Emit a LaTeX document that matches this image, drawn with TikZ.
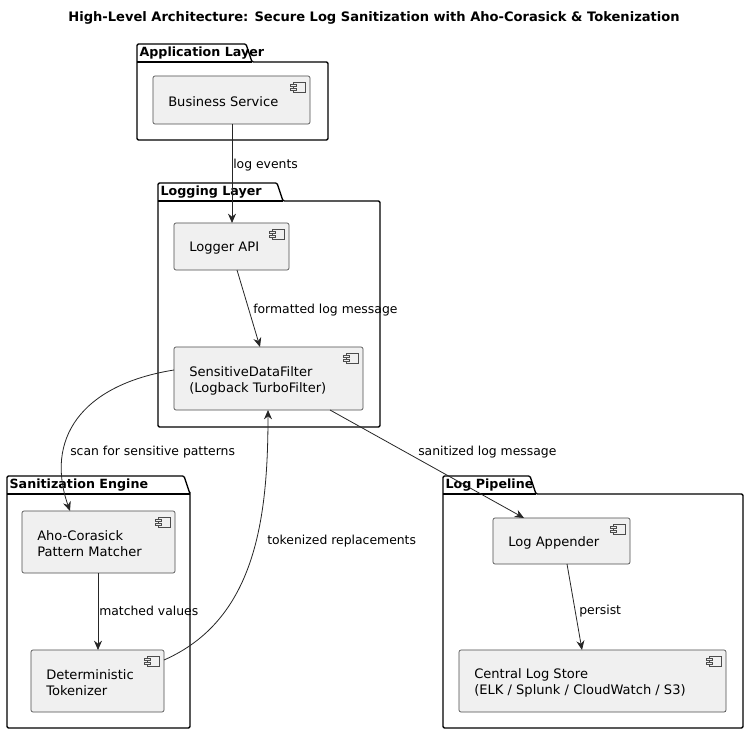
\documentclass[tikz,border=0pt]{standalone}
\usepackage{fontspec}
\setmainfont{DejaVu Sans}
\usetikzlibrary{arrows.meta}
\begin{document}
\begin{tikzpicture}[x=0.75pt,y=-0.75pt,
  comp/.style={draw=black!70,fill=black!6,rounded corners=1.5pt,line width=0.5pt},
  pkg/.style={draw=black,line width=1pt},
  ptitle/.style={anchor=west,font=\bfseries\fontsize{9.5}{11}\selectfont,inner sep=1pt},
  ctext/.style={anchor=west,align=left,font=\fontsize{9.8}{12}\selectfont,inner sep=0pt},
  lbl/.style={anchor=west,font=\fontsize{9.3}{11}\selectfont,inner sep=0pt},
  arr/.style={draw=black!85,line width=0.6pt,-{Stealth[length=7pt,width=6pt]}}]
\fill[white] (0,0) rectangle (749,734);
\node[font=\bfseries\fontsize{9.8}{12}\selectfont] (title) at (374,18) {High-Level Architecture: Secure Log Sanitization with Aho-Corasick \& Tokenization};
% packages
\newcommand{\pkgbox}[7]{% x1 y1 tabx2 ytabbottom x2 y2 name
  \draw[pkg,rounded corners=1pt] (#1,#4) -- (#1,#2) -- (#3-6,#2) -- (#3,#4) -- (#5,#4) -- (#5,#6) -- (#1,#6) -- cycle;
  \draw[pkg] (#1,#4) -- (#3,#4);
  \node[ptitle] at (#1+1,#2+9) {#7};}
\pkgbox{137}{44}{252}{62}{328}{140}{Application Layer}
\pkgbox{158}{183}{283}{201}{380}{427}{Logging Layer}
\pkgbox{7}{476}{190}{494}{190}{728}{Sanitization Engine}
\pkgbox{443}{476}{536}{494}{743}{728}{Log Pipeline}
% components
\newcommand{\comp}[6]{% name x1 y1 x2 y2 text
  \draw[comp] (#2,#3) rectangle (#4,#5);
  \draw[black!70,line width=0.5pt,fill=black!6] (#4-17,#3+6) rectangle (#4-5,#3+16);
  \draw[black!70,line width=0.5pt,fill=black!6] (#4-20,#3+8) rectangle (#4-14,#3+10.5);
  \draw[black!70,line width=0.5pt,fill=black!6] (#4-20,#3+12) rectangle (#4-14,#3+14.5);
  \node[ctext] (#1) at (#2+15,{(#3+#5)/2+2}) {#6};
  \coordinate (#1-nw) at (#2,#3); \coordinate (#1-se) at (#4,#5);}
\comp{bs}{153}{76}{310}{124}{Business Service}
\comp{la}{174}{223}{289}{270}{Logger API}
\comp{sdf}{174}{347}{363}{410}{SensitiveDataFilter\\(Logback TurboFilter)}
\comp{ac}{22}{511}{175}{573}{Aho-Corasick\\Pattern Matcher}
\comp{tk}{31}{650}{164}{712}{Deterministic\\Tokenizer}
\comp{ap}{493}{518}{630}{564}{Log Appender}
\comp{cs}{459}{650}{726}{712}{Central Log Store\\(ELK / Splunk / CloudWatch / S3)}
% edges
\coordinate (e1a) at (232,124); \coordinate (e1b) at (232,223);
\draw[arr] (e1a) -- (e1b);
\node[lbl] (l1) at (233,165) {log events};
\coordinate (e2a) at (237,270); \coordinate (e2b) at (260,347);
\draw[arr] (e2a) -- (e2b);
\node[lbl] (l2) at (253,310) {formatted log message};
\coordinate (e3a) at (174,370); \coordinate (e3b) at (70,511);
\draw[arr] (e3a) .. controls (80,385) and (45,440) .. (e3b);
\node[lbl] (l3) at (70,452) {scan for sensitive patterns};
\coordinate (e4a) at (164,660); \coordinate (e4b) at (268,410);
\draw[arr] (e4a) .. controls (255,620) and (268,520) .. (e4b);
\node[lbl] (l4) at (267,541) {tokenized replacements};
\coordinate (e5a) at (98,573); \coordinate (e5b) at (98,650);
\draw[arr] (e5a) -- (e5b);
\node[lbl] (l5) at (99,611) {matched values};
\coordinate (e6a) at (330,410); \coordinate (e6b) at (524,518);
\draw[arr] (e6a) -- (e6b);
\node[lbl] (l6) at (418,452) {sanitized log message};
\coordinate (e7a) at (567,564); \coordinate (e7b) at (582,650);
\draw[arr] (e7a) -- (e7b);
\node[lbl] (l7) at (579,611) {persist};
\end{tikzpicture}
\end{document}
